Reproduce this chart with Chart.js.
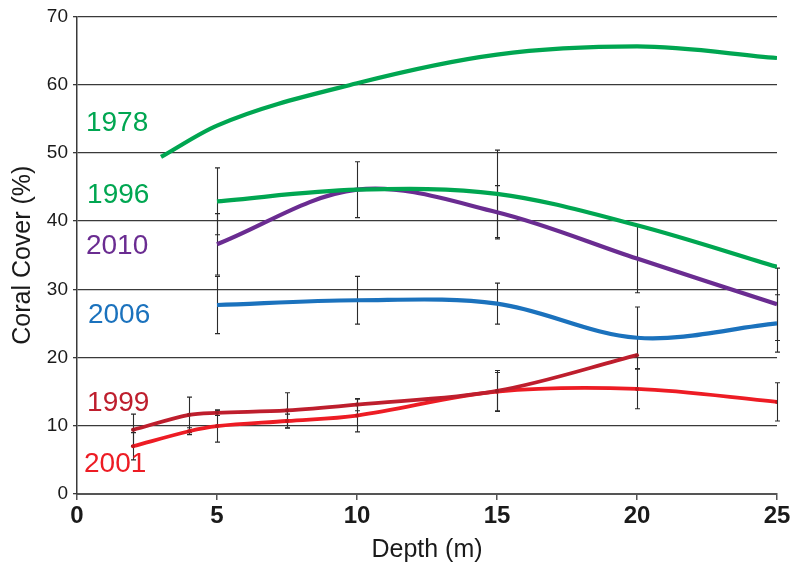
<!DOCTYPE html>
<html>
<head>
<meta charset="utf-8">
<script src="https://cdn.jsdelivr.net/npm/chart.js@4.4.1/dist/chart.umd.min.js"></script>
<style>
  html, body { margin: 0; padding: 0; background: #fff; }
  #wrap { width: 800px; height: 571px; position: relative; }
</style>
</head>
<body>
<div id="wrap"><canvas id="c" width="800" height="571"></canvas></div>
<script>
// ---- Data ----
const yearLabels = ['1978', '1996', '2010', '2006', '1999', '2001'];

const depth1978 = [3, 5, 10, 15, 20, 25];
const cover1978 = [49.4, 54.0, 60.2, 64.4, 65.6, 63.9];

const depth1996 = [5, 10, 15, 20, 25];
const cover1996 = [42.9, 44.6, 44.0, 39.4, 33.3];
const err1996   = [4.9, 4.1, 6.4, 0, 0];

const depth2010 = [5, 10, 15, 20, 25];
const cover2010 = [36.6, 44.6, 41.3, 34.5, 27.8];
const err2010   = [4.5, 0, 3.9, 5.0, 5.3];

const depth2006 = [5, 10, 15, 20, 25];
const cover2006 = [27.7, 28.4, 27.9, 22.9, 25.0];
const err2006   = [4.2, 3.5, 3.0, 4.5, 4.2];

const depth1999 = [2, 4, 5, 7.5, 10, 15, 20];
const cover1999 = [9.4, 11.6, 11.9, 12.25, 13.1, 15.1, 20.35];
const err1999   = [2.3, 2.6, 0.4, 2.6, 0.9, 3.0, 0];

const depth2001 = [2, 4, 5, 7.5, 10, 15, 20, 25];
const cover2001 = [7.0, 9.2, 9.95, 10.7, 11.5, 15.0, 15.4, 13.5];
const err2001   = [2.0, 0.5, 2.35, 1.0, 2.4, 2.8, 2.9, 2.8];

const xTicks = [0, 5, 10, 15, 20, 25];
const yTicks = [0, 10, 20, 30, 40, 50, 60, 70];

// Label anchor positions (data coordinates) for the year annotations
const labelDepth = [0.32, 0.36, 0.32, 0.39, 0.36, 0.25];
const labelCover = [54.3, 43.8, 36.3, 26.2, 13.3, 4.4];

// ---- Styles ----
const colors = {
  '1978': '#00a651', '1996': '#00a651', '2010': '#6a2c91',
  '2006': '#1b72bd', '1999': '#be1e2d', '2001': '#ed1c24'
};

function pts(xs, ys) { return xs.map((x, i) => ({ x: x, y: ys[i] })); }

function ds(label, xs, ys, errs, width, radius, mode) {
  return {
    label: label,
    data: pts(xs, ys),
    errors: errs || null,
    borderColor: colors[label],
    backgroundColor: colors[label],
    borderWidth: width,
    pointRadius: radius,
    pointBackgroundColor: label === '2001' ? '#c4161c' : '#9e1b24',
    pointBorderWidth: 0,
    tension: 0.34,
    cubicInterpolationMode: mode || 'default',
    fill: false
  };
}

const errorBars = {
  id: 'errorBars',
  beforeDatasetsDraw(chart) {
    const ctx = chart.ctx;
    const xs = chart.scales.x, ys = chart.scales.y;
    ctx.save();
    ctx.strokeStyle = '#2b2b2b';
    ctx.lineWidth = 1.1;
    chart.data.datasets.forEach(d => {
      if (!d.errors) return;
      d.data.forEach((p, i) => {
        const e = d.errors[i];
        if (!e) return;
        const px = Math.round(xs.getPixelForValue(p.x)) + 0.5;
        const y1 = ys.getPixelForValue(p.y + e);
        const y2 = ys.getPixelForValue(p.y - e);
        ctx.beginPath();
        ctx.moveTo(px, y1); ctx.lineTo(px, y2);
        ctx.moveTo(px - 2.5, y1); ctx.lineTo(px + 2.5, y1);
        ctx.moveTo(px - 2.5, y2); ctx.lineTo(px + 2.5, y2);
        ctx.stroke();
      });
    });
    ctx.restore();
  }
};

const yearText = {
  id: 'yearText',
  afterDraw(chart) {
    const ctx = chart.ctx;
    const xs = chart.scales.x, ys = chart.scales.y;
    ctx.save();
    ctx.font = '28px "Liberation Sans", Arial, sans-serif';
    ctx.textAlign = 'left';
    ctx.textBaseline = 'middle';
    yearLabels.forEach((t, i) => {
      ctx.fillStyle = colors[t];
      ctx.fillText(t, xs.getPixelForValue(labelDepth[i]), ys.getPixelForValue(labelCover[i]));
    });
    ctx.restore();
  }
};

new Chart(document.getElementById('c'), {
  type: 'line',
  data: {
    datasets: [
      ds('1978', depth1978, cover1978, null, 4.2, 0, 'monotone'),
      ds('1996', depth1996, cover1996, err1996, 4.2, 0),
      ds('2010', depth2010, cover2010, err2010, 4.2, 0),
      ds('2006', depth2006, cover2006, err2006, 4.2, 0),
      ds('1999', depth1999, cover1999, err1999, 3.8, 2),
      ds('2001', depth2001, cover2001, err2001, 3.8, 2)
    ]
  },
  options: {
    responsive: false,
    animation: false,
    devicePixelRatio: 1,
    layout: { padding: { left: 0, right: 23, top: 16, bottom: 0 } },
    plugins: { legend: { display: false }, tooltip: { enabled: false } },
    scales: {
      x: {
        type: 'linear',
        min: 0, max: 25,
        afterBuildTicks(s) { s.ticks = xTicks.map(v => ({ value: v })); },
        afterFit(s) { s.height = 77; },
        grid: { drawOnChartArea: false, drawTicks: true, tickLength: 6, color: '#555', lineWidth: 1.5 },
        border: { color: '#555', width: 2 },
        ticks: { color: '#1a1a1a', padding: 2, font: { family: '"Liberation Sans Narrow", "Liberation Sans", Arial', size: 24, weight: 'bold' } },
        title: { display: true, text: 'Depth (m)', color: '#1a1a1a', padding: { top: 0, bottom: 6 }, font: { family: '"Liberation Sans Narrow", "Liberation Sans", Arial', size: 25 } }
      },
      y: {
        type: 'linear',
        min: 0, max: 70,
        afterBuildTicks(s) { s.ticks = yTicks.map(v => ({ value: v })); },
        afterFit(s) { s.width = 77; },
        grid: { color: '#3a3a3a', lineWidth: 1.3, tickLength: 4, drawTicks: true },
        border: { color: '#3a3a3a', width: 1.5 },
        ticks: { color: '#1a1a1a', padding: 5, font: { family: '"Liberation Sans", Arial', size: 19 } },
        title: { display: true, text: 'Coral Cover (%)', color: '#1a1a1a', padding: { top: 8, bottom: 0 }, font: { family: '"Liberation Sans", Arial', size: 25 } }
      }
    }
  },
  plugins: [errorBars, yearText]
});
</script>
</body>
</html>
